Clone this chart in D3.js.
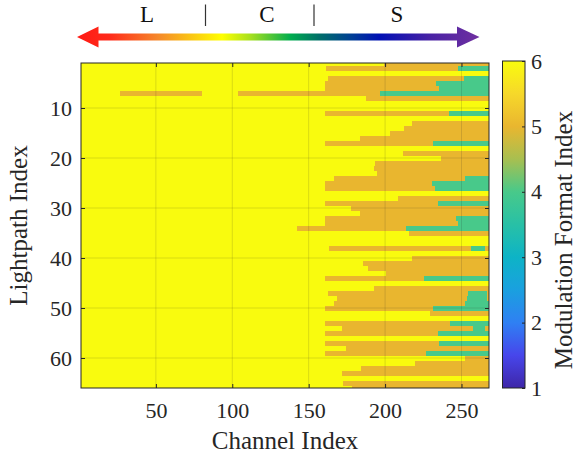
<!DOCTYPE html>
<html>
<head>
<meta charset="utf-8">
<script src="https://cdn.jsdelivr.net/npm/d3@7"></script>
<style>
  body { margin: 0; background: #fff; }
  svg { display: block; font-family: "Liberation Serif", "Times New Roman", serif; }
  svg text { font-family: "Liberation Serif", "Times New Roman", serif !important; }
</style>
</head>
<body>
<script>
var nChannels = 268, nPaths = 66;
var baseFormat = 6;
var xTicks = [50, 100, 150, 200, 250];
var yTicks = [10, 20, 30, 40, 50, 60];
var cbTicks = [1, 2, 3, 4, 5, 6];
var bandNames = ["L", "C", "S"];

// [lightpath, first channel, last channel] with modulation format 5
var format5Runs = [
  [1, 200, 268], [2, 162, 268], [4, 163, 268], [5, 161, 268], [6, 161, 268],
  [7, 27, 80], [7, 104, 268], [8, 188, 268], [11, 161, 268], [13, 218, 268],
  [14, 213, 268], [15, 204, 268], [16, 184, 268], [17, 161, 268], [19, 212, 268],
  [20, 237, 268], [21, 194, 268], [22, 193, 268], [23, 195, 268], [24, 167, 268],
  [25, 161, 268], [26, 161, 268], [28, 209, 268], [29, 161, 268], [30, 178, 268],
  [31, 184, 268], [32, 161, 268], [33, 161, 268], [34, 143, 268], [35, 216, 268],
  [38, 164, 268], [40, 218, 268], [41, 186, 268], [42, 189, 268], [43, 201, 268],
  [44, 161, 268], [46, 193, 268], [47, 163, 268], [48, 169, 268], [49, 167, 268],
  [50, 161, 268], [51, 230, 268], [53, 161, 268], [54, 172, 268], [55, 161, 268],
  [57, 161, 268], [58, 175, 268], [59, 161, 268], [60, 253, 268], [61, 220, 268],
  [62, 185, 268], [63, 172, 268], [65, 173, 268], [66, 179, 268]
];

// [lightpath, first channel, last channel] with modulation format 4
var format4Runs = [
  [2, 248, 268], [4, 252, 268], [5, 234, 268], [6, 236, 268], [7, 197, 268],
  [11, 242, 268], [17, 232, 268], [24, 253, 268], [25, 231, 268], [26, 233, 268],
  [29, 235, 268], [32, 247, 268], [33, 248, 268], [34, 214, 268], [38, 257, 265],
  [44, 226, 268], [47, 255, 266], [48, 254, 266], [49, 253, 268], [50, 232, 268],
  [53, 243, 268], [54, 258, 265], [55, 235, 268], [57, 236, 268], [59, 227, 268]
];

var svg = d3.select("body").append("svg")
    .attr("width", 576)
    .attr("height", 458);

var x = d3.scaleLinear().domain([1, nChannels]).range([81, 489]);
var y = d3.scaleLinear().domain([1, nPaths]).range([63, 388]);

// parula-like map, 1..6
var parula = ["#3e26a8", "#4746eb", "#2f80f3", "#1aa0df", "#0db3c6", "#28c0a6",
              "#48c98a", "#a8bf50", "#e9b62f", "#f6d82a", "#f9fb0e"];
var color = d3.scaleLinear()
    .domain(parula.map(function (d, i) { return 1 + i * 0.5; }))
    .range(parula);

var defs = svg.append("defs");
defs.append("clipPath").attr("id", "plotclip")
  .append("rect")
    .attr("x", x(1)).attr("y", y(1))
    .attr("width", x(nChannels) - x(1))
    .attr("height", y(nPaths) - y(1));

var rows = d3.range(1, nPaths + 1).map(function (r) { return [r, 1, nChannels]; });

var cells = svg.append("g").attr("clip-path", "url(#plotclip)")
    .attr("shape-rendering", "crispEdges");

function drawRuns(runs, fmt) {
  cells.append("g").selectAll("rect")
    .data(runs)
    .enter().append("rect")
      .attr("x", function (d) { return x(d[1] - 0.5); })
      .attr("y", function (d) { return y(d[0] - 0.5); })
      .attr("width", function (d) { return x(d[2] + 0.5) - x(d[1] - 0.5); })
      .attr("height", function (d) { return y(d[0] + 0.5) - y(d[0] - 0.5); })
      .attr("fill", color(fmt));
}
drawRuns(rows, baseFormat);
drawRuns(format5Runs, 5);
drawRuns(format4Runs, 4);

// grid on top of the image
var grid = svg.append("g").attr("stroke", "#262626").attr("stroke-opacity", 0.15);
grid.selectAll(".gx").data(xTicks).enter().append("line")
    .attr("x1", x).attr("x2", x)
    .attr("y1", y(1)).attr("y2", y(nPaths));
grid.selectAll(".gy").data(yTicks).enter().append("line")
    .attr("y1", y).attr("y2", y)
    .attr("x1", x(1)).attr("x2", x(nChannels));

function styleAxis(g) {
  g.attr("font-family", null).attr("font-size", null);
  g.select(".domain").remove();
  g.selectAll(".tick line").attr("stroke", "#262626");
  g.selectAll(".tick text").attr("fill", "#262626").style("font-size", "22px");
}

svg.append("g")
    .attr("transform", "translate(0," + y(nPaths) + ")")
    .call(d3.axisBottom(x).tickValues(xTicks).tickSizeInner(-4).tickSizeOuter(0).tickPadding(14))
    .call(styleAxis);
svg.append("g")
    .attr("transform", "translate(0," + y(1) + ")")
    .call(d3.axisTop(x).tickValues(xTicks).tickSizeInner(-4).tickSizeOuter(0).tickFormat(""))
    .call(styleAxis);
svg.append("g")
    .attr("transform", "translate(" + x(1) + ",0)")
    .call(d3.axisLeft(y).tickValues(yTicks).tickSizeInner(-4).tickSizeOuter(0).tickPadding(9))
    .call(styleAxis);
svg.append("g")
    .attr("transform", "translate(" + x(nChannels) + ",0)")
    .call(d3.axisRight(y).tickValues(yTicks).tickSizeInner(-4).tickSizeOuter(0).tickFormat(""))
    .call(styleAxis);

svg.append("rect")
    .attr("x", x(1)).attr("y", y(1))
    .attr("width", x(nChannels) - x(1))
    .attr("height", y(nPaths) - y(1))
    .attr("fill", "none")
    .attr("stroke", "#262626")
    .attr("stroke-width", 1);

svg.append("text")
    .attr("x", (x(1) + x(nChannels)) / 2)
    .attr("y", 449)
    .attr("text-anchor", "middle")
    .attr("fill", "#262626")
    .style("font-size", "25px")
    .text("Channel Index");

svg.append("text")
    .attr("transform", "translate(27," + (y(1) + y(nPaths)) / 2 + ") rotate(-90)")
    .attr("text-anchor", "middle")
    .attr("fill", "#262626")
    .style("font-size", "25px")
    .text("Lightpath Index");

// colorbar
var cb = d3.scaleLinear().domain([1, 6]).range([388, 61]);
var cbGrad = defs.append("linearGradient").attr("id", "cbgrad")
    .attr("x1", 0).attr("y1", 1).attr("x2", 0).attr("y2", 0);
cbGrad.selectAll("stop")
    .data(d3.range(0, 1.0001, 0.05))
    .enter().append("stop")
      .attr("offset", function (t) { return t; })
      .attr("stop-color", function (t) { return color(1 + 5 * t); });

svg.append("rect")
    .attr("x", 502.5).attr("y", cb(6))
    .attr("width", 22.5).attr("height", cb(1) - cb(6))
    .attr("fill", "url(#cbgrad)")
    .attr("stroke", "#262626")
    .attr("stroke-width", 1);

svg.append("g")
    .attr("transform", "translate(525,0)")
    .call(d3.axisRight(cb).tickValues(cbTicks).tickFormat(d3.format("d"))
      .tickSizeInner(-3).tickSizeOuter(0).tickPadding(6))
    .call(styleAxis);

svg.append("text")
    .attr("transform", "translate(572,240) rotate(-90)")
    .attr("text-anchor", "middle")
    .attr("fill", "#262626")
    .style("font-size", "25px")
    .text("Modulation Format Index");

// band arrow on top
var arrowGrad = defs.append("linearGradient").attr("id", "bandgrad")
    .attr("gradientUnits", "userSpaceOnUse")
    .attr("x1", 77).attr("x2", 480).attr("y1", 0).attr("y2", 0);
[[0, "#ff1a14"], [0.08, "#ff2a1a"], [0.2, "#f5872a"], [0.36, "#ffff00"], [0.43, "#a6e01e"],
 [0.53, "#00ad4e"], [0.6, "#006f68"], [0.68, "#003f94"], [0.75, "#0010b4"], [0.88, "#4a22a4"],
 [1, "#7030a0"]].forEach(function (s) {
  arrowGrad.append("stop").attr("offset", s[0]).attr("stop-color", s[1]);
});

svg.append("path")
    .attr("d", "M77,37 L98.5,26.5 L98.5,33.5 L457,33.5 L457,26.5 L479.5,37 L457,47.5 L457,40.5 L98.5,40.5 L98.5,47.5 Z")
    .attr("fill", "url(#bandgrad)");

var bandX = [147, 267, 397], sepX = [205.5, 314];
svg.selectAll(".band").data(bandNames).enter().append("text")
    .attr("x", function (d, i) { return bandX[i]; })
    .attr("y", 22)
    .attr("text-anchor", "middle")
    .attr("fill", "#111")
    .style("font-size", "23px")
    .text(function (d) { return d; });
svg.selectAll(".sep").data(sepX).enter().append("line")
    .attr("x1", function (d) { return d; }).attr("x2", function (d) { return d; })
    .attr("y1", 4.5).attr("y2", 26)
    .attr("stroke", "#333").attr("stroke-width", 1.2);
</script>
</body>
</html>
